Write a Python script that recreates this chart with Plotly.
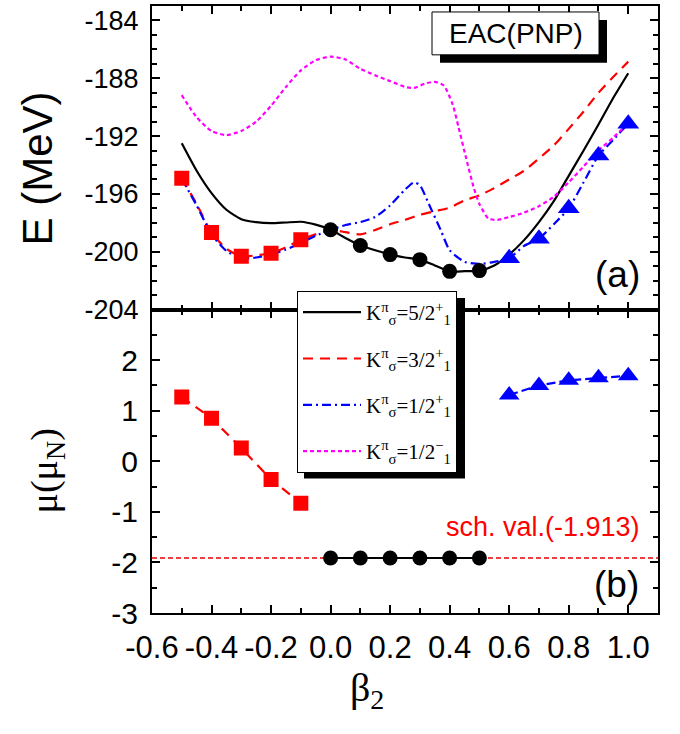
import plotly.graph_objects as go

# ---------------- data ----------------
# top panel (a): energy curves E(beta2) in MeV
b_k52 = [-0.5, -0.45, -0.4, -0.35, -0.3, -0.25, -0.2, -0.15, -0.1, -0.05, 0.0, 0.05, 0.1, 0.15, 0.2,
         0.25, 0.3, 0.35, 0.4, 0.45, 0.5, 0.55, 0.6, 0.65, 0.7, 0.75, 0.8, 0.85, 0.9, 0.95, 1.0]
e_k52 = [-192.5, -194.4, -195.95, -197.1, -197.75, -197.96, -198.03, -197.98, -197.93, -198.13, -198.48,
         -199.05, -199.57, -199.9, -200.2, -200.4, -200.55, -200.95, -201.36, -201.35, -201.31, -200.95,
         -200.2, -199.2, -197.95, -196.5, -194.75, -193.0, -191.2, -189.35, -187.65]

b_k32 = [-0.5, -0.45, -0.4, -0.35, -0.3, -0.25, -0.2, -0.15, -0.1, -0.05, 0.0, 0.05, 0.1, 0.15, 0.2,
         0.25, 0.3, 0.35, 0.4, 0.45, 0.5, 0.55, 0.6, 0.65, 0.7, 0.75, 0.8, 0.85, 0.9, 0.95, 1.0]
e_k32 = [-194.92, -196.7, -198.67, -199.8, -200.32, -200.25, -200.1, -199.7, -199.17, -198.8, -198.5,
         -198.65, -198.8, -198.5, -198.1, -197.8, -197.45, -197.2, -196.95, -196.45, -196.1, -195.6,
         -195.0, -194.4, -193.55, -192.65, -191.5, -190.3, -189.0, -187.9, -186.85]

b_k12p = [-0.5, -0.45, -0.4, -0.35, -0.3, -0.25, -0.2, -0.15, -0.1, -0.05, 0.0, 0.05, 0.1, 0.15, 0.2,
          0.25, 0.28, 0.3, 0.33, 0.37, 0.4, 0.45, 0.5, 0.55, 0.6, 0.65, 0.7, 0.75, 0.8, 0.85, 0.9, 0.95, 1.0]
e_k12p = [-194.95, -196.8, -198.8, -199.95, -200.45, -200.4, -200.2, -199.85, -199.4, -198.9, -198.5,
          -198.15, -197.95, -197.6, -196.8, -195.7, -195.2, -195.4, -196.7, -198.5, -199.9, -200.7,
          -200.85, -200.7, -200.45, -199.6, -199.1, -198.1, -197.0, -195.2, -193.35, -192.25, -191.15]

b_k12m = [-0.5, -0.45, -0.4, -0.35, -0.3, -0.25, -0.2, -0.15, -0.1, -0.05, 0.0, 0.05, 0.1, 0.15, 0.2,
          0.25, 0.28, 0.32, 0.35, 0.38, 0.41, 0.43, 0.455, 0.48, 0.5, 0.53, 0.56, 0.6, 0.65, 0.7, 0.75,
          0.8, 0.85, 0.9, 0.95, 1.0]
e_k12m = [-189.17, -190.7, -191.65, -191.93, -191.65, -191.0, -189.9, -188.6, -187.45, -186.75, -186.5,
          -186.7, -187.35, -187.8, -188.2, -188.6, -188.67, -188.35, -188.25, -188.5, -189.8, -191.4,
          -193.5, -195.5, -196.7, -197.7, -197.8, -197.6, -197.3, -196.85, -196.2, -195.2, -194.1,
          -193.0, -192.1, -191.1]

# lowest-state markers in (a)
b_sq = [-0.5, -0.4, -0.3, -0.2, -0.1]
e_sq = [-194.92, -198.67, -200.32, -200.1, -199.17]
b_ci = [0.0, 0.1, 0.2, 0.3, 0.4, 0.5]
e_ci = [-198.48, -199.57, -200.2, -200.55, -201.36, -201.31]
b_tr = [0.6, 0.7, 0.8, 0.9, 1.0]
e_tr = [-200.45, -199.1, -197.0, -193.35, -191.15]

# bottom panel (b): magnetic moments (mu_N)
mu_sq = [1.27, 0.85, 0.26, -0.36, -0.83]
mu_ci = [-1.913, -1.913, -1.913, -1.913, -1.913, -1.913]
mu_tr = [1.31, 1.50, 1.60, 1.65, 1.69]
sch_val = -1.913
sch_x = [-0.6, 1.1]

legend_names = ["K<sup>π</sup><sub>σ</sub>=5/2<sup>+</sup><sub>1</sub>",
                "K<sup>π</sup><sub>σ</sub>=3/2<sup>+</sup><sub>1</sub>",
                "K<sup>π</sup><sub>σ</sub>=1/2<sup>+</sup><sub>1</sub>",
                "K<sup>π</sup><sub>σ</sub>=1/2<sup>−</sup><sub>1</sub>"]

x_tickvals = [-0.6, -0.4, -0.2, 0.0, 0.2, 0.4, 0.6, 0.8, 1.0]
x_ticktext = ["-0.6", "-0.4", "-0.2", "0.0", "0.2", "0.4", "0.6", "0.8", "1.0"]
e_tickvals = [-204, -200, -196, -192, -188, -184]
e_ticktext = ["-204", "-200", "-196", "-192", "-188", "-184"]
mu_tickvals = [-3, -2, -1, 0, 1, 2]
mu_ticktext = ["-3", "-2", "-1", "0", "1", "2"]

# ---------------- figure ----------------
W, H = 680, 734
ML, MR, MT, MB = 152, 22, 4, 121
PW, PH = W - ML - MR, H - MT - MB


def px(xp):
    return (xp - ML) / PW


def py(yp):
    return (H - MB - yp) / PH


RED, BLUE, MAG, BLK = "#ff0000", "#0000ff", "#ff00ff", "#000000"
LW = 2.2
SANS = "Liberation Sans, Arial, sans-serif"
SERIF = "Liberation Serif, Times New Roman, serif"

fig = go.Figure()

# panel (a) curves
curves = [(b_k52, e_k52, BLK, "solid"), (b_k32, e_k32, RED, "10px,7px"),
          (b_k12p, e_k12p, BLUE, "9px,4px,2px,4px"), (b_k12m, e_k12m, MAG, "4px,3px")]
for i, (bx, ey, col, dash) in enumerate(curves):
    fig.add_trace(go.Scatter(x=bx, y=ey, mode="lines", xaxis="x2", yaxis="y2",
                             line=dict(color=col, width=LW, dash=dash, shape="spline", smoothing=0.6),
                             name=legend_names[i], legendgroup=f"g{i}", showlegend=True))

fig.add_trace(go.Scatter(x=b_sq, y=e_sq, mode="markers", xaxis="x2", yaxis="y2", showlegend=False,
                         marker=dict(symbol="square", size=15, color=RED)))
fig.add_trace(go.Scatter(x=b_ci, y=e_ci, mode="markers", xaxis="x2", yaxis="y2", showlegend=False,
                         marker=dict(symbol="circle", size=15, color=BLK)))
fig.add_trace(go.Scatter(x=b_tr, y=e_tr, mode="markers", xaxis="x2", yaxis="y2", showlegend=False,
                         marker=dict(symbol="triangle-up", size=19, color=BLUE)))

# panel (b)
fig.add_trace(go.Scatter(x=sch_x, y=[sch_val, sch_val], mode="lines", showlegend=False,
                         line=dict(color="#e80000", width=1.3, dash="5px,3px")))
fig.add_trace(go.Scatter(x=b_sq, y=mu_sq, mode="lines+markers", showlegend=False,
                         line=dict(color=RED, width=LW, dash="10px,7px"),
                         marker=dict(symbol="square", size=15, color=RED)))
fig.add_trace(go.Scatter(x=b_ci, y=mu_ci, mode="lines+markers", showlegend=False,
                         line=dict(color=BLK, width=LW),
                         marker=dict(symbol="circle", size=15, color=BLK)))
fig.add_trace(go.Scatter(x=b_tr, y=mu_tr, mode="lines+markers", showlegend=False,
                         line=dict(color=BLUE, width=LW, dash="9px,4px"),
                         marker=dict(symbol="triangle-up", size=18, color=BLUE)))

axis_common = dict(showline=True, linecolor="black", linewidth=2, mirror="ticks",
                   ticks="inside", ticklen=8, tickwidth=1.5, tickcolor="black",
                   showgrid=False, zeroline=False)

fig.update_layout(
    width=W, height=H, margin=dict(l=ML, r=MR, t=MT, b=MB),
    paper_bgcolor="white", plot_bgcolor="white",
    xaxis=dict(domain=[0, 1], anchor="y", range=[-0.6, 1.1], tickvals=x_tickvals, ticktext=x_ticktext,
               tickfont=dict(family=SANS, size=31, color="black"), ticklabelstandoff=6,
               minor=dict(dtick=0.1, tick0=-0.6, ticks="inside", ticklen=5, tickwidth=1.5, tickcolor="black"),
               **axis_common),
    xaxis2=dict(domain=[0, 1], anchor="y2", matches="x", range=[-0.6, 1.1], tickvals=x_tickvals,
                showticklabels=False,
                minor=dict(dtick=0.1, tick0=-0.6, ticks="inside", ticklen=5, tickwidth=1.5, tickcolor="black"),
                **axis_common),
    yaxis=dict(domain=[0, 0.5], anchor="x", range=[-3, 3], tickvals=mu_tickvals, ticktext=mu_ticktext,
               tickfont=dict(family=SANS, size=30, color="black"), ticklabelstandoff=6,
               minor=dict(dtick=0.5, tick0=-3, ticks="inside", ticklen=5, tickwidth=1.5, tickcolor="black"),
               **axis_common),
    yaxis2=dict(domain=[0.5, 1], anchor="x2", range=[-204, -183], tickvals=e_tickvals, ticktext=e_ticktext,
                tickfont=dict(family=SANS, size=27, color="black"), ticklabelstandoff=6,
                minor=dict(dtick=1, tick0=-204, ticks="inside", ticklen=5, tickwidth=1.5, tickcolor="black"),
                **axis_common),
    showlegend=True,
    legend=dict(x=px(297), y=py(290), xanchor="left", yanchor="top",
                bgcolor="white", bordercolor="black", borderwidth=1,
                font=dict(family=SERIF, size=21, color="black"),
                itemwidth=58, tracegroupgap=16, traceorder="grouped"),
)

# legend shadow and EAC(PNP) box
shapes = [
    dict(type="rect", xref="paper", yref="paper", x0=px(304), x1=px(465), y0=py(297), y1=py(478),
         fillcolor="black", line=dict(width=0), layer="above"),
    dict(type="rect", xref="paper", yref="paper", x0=px(440), x1=px(607), y0=py(18), y1=py(61),
         fillcolor="black", line=dict(width=0), layer="above"),
    dict(type="rect", xref="paper", yref="paper", x0=px(432), x1=px(599), y0=py(10), y1=py(53),
         fillcolor="white", line=dict(color="black", width=1), layer="above"),
]
fig.update_layout(shapes=shapes)

ann = [
    dict(text="EAC(PNP)", x=px(515.5), y=py(31.5), font=dict(family=SANS, size=28, color="black")),
    dict(text="(a)", x=px(617), y=py(273), font=dict(family=SANS, size=37, color="black")),
    dict(text="(b)", x=px(616), y=py(584), font=dict(family=SANS, size=37, color="black")),
    dict(text="sch. val.(-1.913)", x=px(642), y=py(527), xanchor="right",
         font=dict(family=SANS, size=27, color=RED)),
    dict(text="E (MeV)", x=px(37), y=py(167), textangle=-90, font=dict(family=SANS, size=42, color="black")),
    dict(text="μ(μ<sub>N</sub>)", x=px(47), y=py(471), textangle=-90,
         font=dict(family=SERIF, size=38, color="black")),
    dict(text="β<sub>2</sub>", x=px(367), y=py(690), font=dict(family=SERIF, size=40, color="black")),
]
for a in ann:
    a.setdefault("xanchor", "center")
    a.update(xref="paper", yref="paper", yanchor="middle", showarrow=False)
fig.update_layout(annotations=ann)

fig.write_html("out.html")
